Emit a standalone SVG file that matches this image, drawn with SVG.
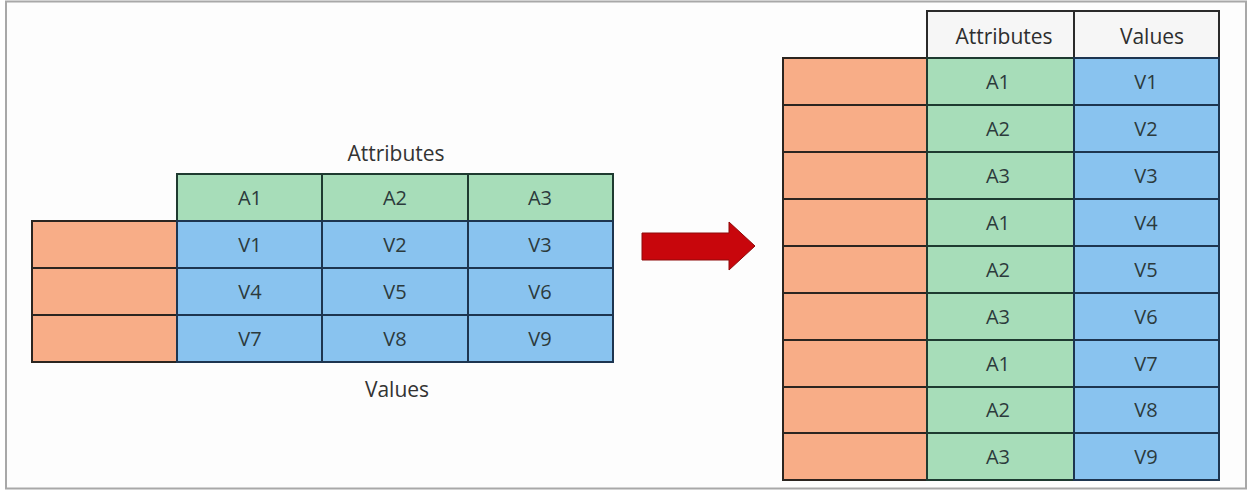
<svg xmlns="http://www.w3.org/2000/svg" width="1249" height="491" viewBox="0 0 1249 491">
<defs>
<style>
.o{fill:#F8AD87;stroke:#2B2520;stroke-width:2}
.g{fill:#A7DDB9;stroke:#1E3A30;stroke-width:2}
.b{fill:#89C3EF;stroke:#1D3550;stroke-width:2}
.w{fill:#F6F6F6;stroke:#2A2A2A;stroke-width:2}
.t{font-family:"Open Sans","Liberation Sans",sans-serif;font-size:20px;fill:#2C3A3C;text-anchor:middle}
.h{font-family:"Open Sans","Liberation Sans",sans-serif;font-size:21px;fill:#2E2E2E;text-anchor:middle}
.l{font-family:"Open Sans","Liberation Sans",sans-serif;font-size:21px;fill:#333;text-anchor:middle}
</style>
</defs>
<rect x="0" y="0" width="1249" height="491" fill="#FFFFFF"/>
<rect x="6" y="1.5" width="1240" height="487" fill="#FDFDFD" stroke="#A8A8A8" stroke-width="2"/>

<g id="left-table">
  <text class="l" x="396" y="161">Attributes</text>
  <rect class="g" x="177" y="174" width="145" height="47"/>
  <rect class="g" x="322" y="174" width="146" height="47"/>
  <rect class="g" x="468" y="174" width="145" height="47"/>
  <text class="t" x="250" y="205">A1</text>
  <text class="t" x="395" y="205">A2</text>
  <text class="t" x="540" y="205">A3</text>
  <rect class="o" x="32" y="221" width="145" height="47"/>
  <rect class="o" x="32" y="268" width="145" height="47"/>
  <rect class="o" x="32" y="315" width="145" height="47"/>
  <rect class="b" x="177" y="221" width="145" height="47"/>
  <rect class="b" x="322" y="221" width="146" height="47"/>
  <rect class="b" x="468" y="221" width="145" height="47"/>
  <rect class="b" x="177" y="268" width="145" height="47"/>
  <rect class="b" x="322" y="268" width="146" height="47"/>
  <rect class="b" x="468" y="268" width="145" height="47"/>
  <rect class="b" x="177" y="315" width="145" height="47"/>
  <rect class="b" x="322" y="315" width="146" height="47"/>
  <rect class="b" x="468" y="315" width="145" height="47"/>
  <text class="t" x="250" y="252">V1</text>
  <text class="t" x="395" y="252">V2</text>
  <text class="t" x="540" y="252">V3</text>
  <text class="t" x="250" y="299">V4</text>
  <text class="t" x="395" y="299">V5</text>
  <text class="t" x="540" y="299">V6</text>
  <text class="t" x="250" y="346">V7</text>
  <text class="t" x="395" y="346">V8</text>
  <text class="t" x="540" y="346">V9</text>
  <text class="l" x="397" y="397">Values</text>
</g>

<g id="connectors">
  <path d="M642,233 L729,233 L729,222 L755,246 L729,270 L729,260 L642,260 Z" fill="#C8060C" stroke="#8E0A0A" stroke-width="1"/>
</g>

<g id="right-table">
  <rect class="w" x="927" y="11" width="147" height="47"/>
  <rect class="w" x="1074" y="11" width="145" height="47"/>
  <text class="h" x="1004" y="44">Attributes</text>
  <text class="h" x="1152" y="44">Values</text>
  <g id="r-orange">
    <rect class="o" x="783" y="58" width="144" height="47"/>
    <rect class="o" x="783" y="105" width="144" height="47"/>
    <rect class="o" x="783" y="152" width="144" height="47"/>
    <rect class="o" x="783" y="199" width="144" height="47"/>
    <rect class="o" x="783" y="246" width="144" height="47"/>
    <rect class="o" x="783" y="293" width="144" height="47"/>
    <rect class="o" x="783" y="340" width="144" height="47"/>
    <rect class="o" x="783" y="387" width="144" height="46"/>
    <rect class="o" x="783" y="433" width="144" height="47"/>
  </g>
  <g id="r-green">
    <rect class="g" x="927" y="58" width="147" height="47"/>
    <rect class="g" x="927" y="105" width="147" height="47"/>
    <rect class="g" x="927" y="152" width="147" height="47"/>
    <rect class="g" x="927" y="199" width="147" height="47"/>
    <rect class="g" x="927" y="246" width="147" height="47"/>
    <rect class="g" x="927" y="293" width="147" height="47"/>
    <rect class="g" x="927" y="340" width="147" height="47"/>
    <rect class="g" x="927" y="387" width="147" height="46"/>
    <rect class="g" x="927" y="433" width="147" height="47"/>
  </g>
  <g id="r-blue">
    <rect class="b" x="1074" y="58" width="145" height="47"/>
    <rect class="b" x="1074" y="105" width="145" height="47"/>
    <rect class="b" x="1074" y="152" width="145" height="47"/>
    <rect class="b" x="1074" y="199" width="145" height="47"/>
    <rect class="b" x="1074" y="246" width="145" height="47"/>
    <rect class="b" x="1074" y="293" width="145" height="47"/>
    <rect class="b" x="1074" y="340" width="145" height="47"/>
    <rect class="b" x="1074" y="387" width="145" height="46"/>
    <rect class="b" x="1074" y="433" width="145" height="47"/>
  </g>
  <text class="t" x="998" y="89">A1</text>
  <text class="t" x="998" y="136">A2</text>
  <text class="t" x="998" y="183">A3</text>
  <text class="t" x="998" y="230">A1</text>
  <text class="t" x="998" y="277">A2</text>
  <text class="t" x="998" y="324">A3</text>
  <text class="t" x="998" y="371">A1</text>
  <text class="t" x="998" y="417">A2</text>
  <text class="t" x="998" y="464">A3</text>
  <text class="t" x="1146" y="89">V1</text>
  <text class="t" x="1146" y="136">V2</text>
  <text class="t" x="1146" y="183">V3</text>
  <text class="t" x="1146" y="230">V4</text>
  <text class="t" x="1146" y="277">V5</text>
  <text class="t" x="1146" y="324">V6</text>
  <text class="t" x="1146" y="371">V7</text>
  <text class="t" x="1146" y="417">V8</text>
  <text class="t" x="1146" y="464">V9</text>
</g>
</svg>
